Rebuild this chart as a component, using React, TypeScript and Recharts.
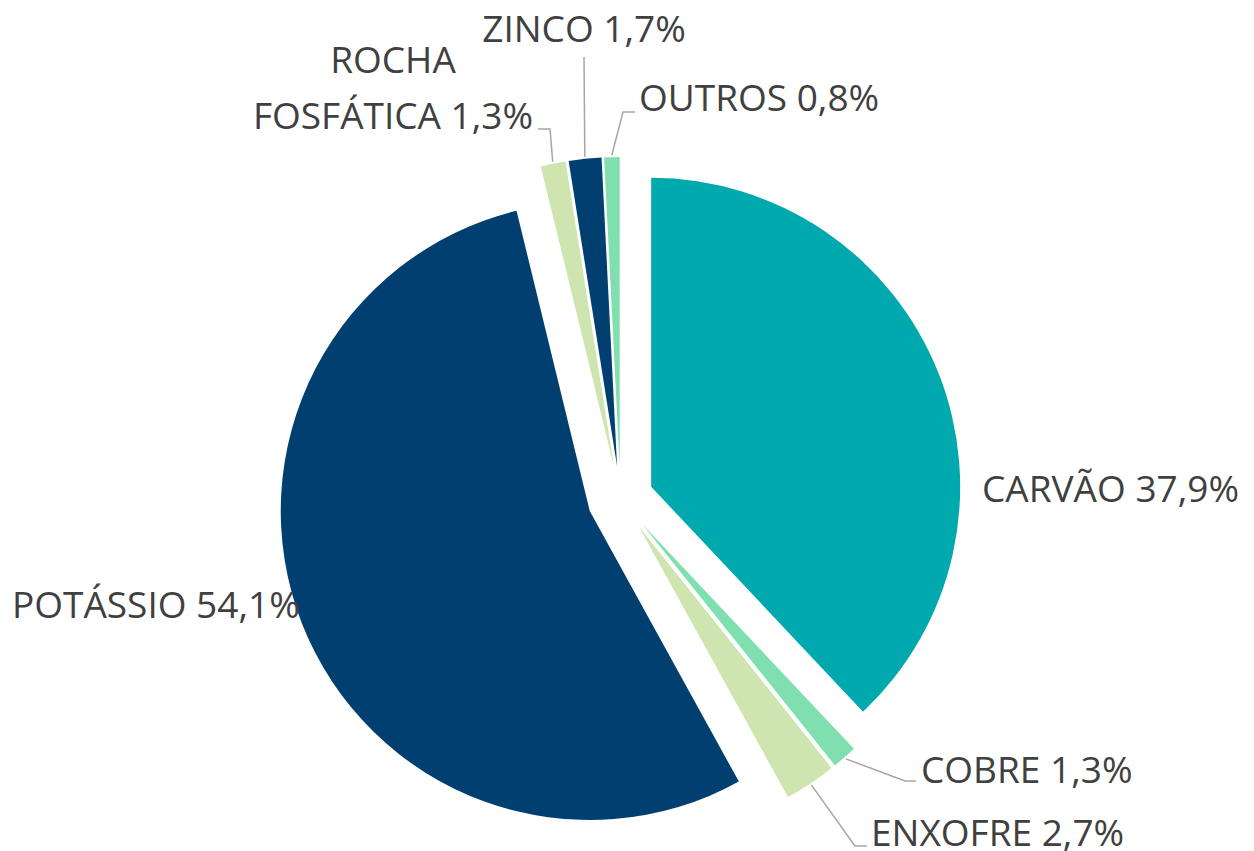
import React from 'react';
import { PieChart, Pie, Cell, Sector } from 'recharts';

// ---- data ----
const categories = ['CARVÃO', 'COBRE', 'ENXOFRE', 'POTÁSSIO', 'ROCHA FOSFÁTICA', 'ZINCO', 'OUTROS'];
const shares = [37.9, 1.3, 2.7, 54.1, 1.3, 1.7, 0.8];
const colors = ['#00A9AD', '#80DFAF', '#CFE5AF', '#003F70', '#CFE5AF', '#003F70', '#80DFAF'];

const data = categories.map((name, i) => ({ name, value: shares[i] }));

// ---- layout ----
const W = 1254;
const H = 851;
const CX = 620.5;
const CY = 499;
const R = 309;
const EXPLODE = 33;
const FONT = '"Open Sans", sans-serif';
const FONT_SIZE = 37;
const TEXT_COLOR = '#404040';
const LINE_COLOR = '#A6A6A6';

type LabelLayout = {
  x: number;
  y: number; // baseline
  anchor: 'start' | 'middle' | 'end';
  split?: boolean;
  elbow?: [number, number];
  end?: [number, number];
};

const labelLayout: LabelLayout[] = [
  { x: 982, y: 502, anchor: 'start' },
  { x: 921, y: 783, anchor: 'start', elbow: [905, 781], end: [916, 781] },
  { x: 871, y: 846, anchor: 'start', elbow: [855, 846], end: [867, 846] },
  { x: 12, y: 618, anchor: 'start' },
  { x: 393, y: 129, anchor: 'middle', split: true, elbow: [550, 129], end: [538, 129] },
  { x: 584, y: 42, anchor: 'middle', elbow: [584, 57] },
  { x: 639, y: 111, anchor: 'start', elbow: [623, 112], end: [635, 112] },
];

const fmt = (v: number) => `${v.toFixed(1).replace('.', ',')}%`;

const renderSlice = (props: any) => {
  const { cx, cy, midAngle, startAngle, endAngle, outerRadius, index } = props;
  const rad = (-midAngle * Math.PI) / 180;
  const ox = cx + EXPLODE * Math.cos(rad);
  const oy = cy + EXPLODE * Math.sin(rad);
  const ax = ox + (outerRadius + 2) * Math.cos(rad);
  const ay = oy + (outerRadius + 2) * Math.sin(rad);
  const lay = labelLayout[index];
  const name = categories[index];
  const valueText = fmt(shares[index]);

  let pts = '';
  if (lay.elbow) {
    pts = `${ax},${ay} ${lay.elbow[0]},${lay.elbow[1]}`;
    if (lay.end) pts += ` ${lay.end[0]},${lay.end[1]}`;
  }

  let textEl;
  if (lay.split) {
    const words = name.split(' ');
    textEl = (
      <text x={lay.x} y={lay.y} textAnchor={lay.anchor} fontFamily={FONT} fontSize={FONT_SIZE} fill={TEXT_COLOR}>
        <tspan x={lay.x} dy={-56}>{words[0]}</tspan>
        <tspan x={lay.x} dy={56}>{`${words.slice(1).join(' ')} ${valueText}`}</tspan>
      </text>
    );
  } else {
    textEl = (
      <text x={lay.x} y={lay.y} textAnchor={lay.anchor} fontFamily={FONT} fontSize={FONT_SIZE} fill={TEXT_COLOR}>
        {`${name} ${valueText}`}
      </text>
    );
  }

  return (
    <g>
      <Sector
        cx={ox}
        cy={oy}
        innerRadius={0}
        outerRadius={outerRadius}
        startAngle={startAngle}
        endAngle={endAngle}
        fill={colors[index]}
        stroke="none"
      />
      {pts && <polyline points={pts} fill="none" stroke={LINE_COLOR} strokeWidth={1.5} />}
      {textEl}
    </g>
  );
};

export default function App() {
  return (
    <div style={{ position: 'absolute', left: 0, top: 0, width: W, height: H, background: '#fff' }}>
      <PieChart width={W} height={H} margin={{ top: 0, right: 0, bottom: 0, left: 0 }}>
        <Pie
          data={data}
          dataKey="value"
          nameKey="name"
          cx={CX}
          cy={CY}
          innerRadius={0}
          outerRadius={R}
          startAngle={90}
          endAngle={-270}
          stroke="none"
          label={renderSlice}
          labelLine={false}
          isAnimationActive={false}
        >
          {data.map((d, i) => (
            <Cell key={d.name} fill="transparent" stroke="none" />
          ))}
        </Pie>
      </PieChart>
    </div>
  );
}
